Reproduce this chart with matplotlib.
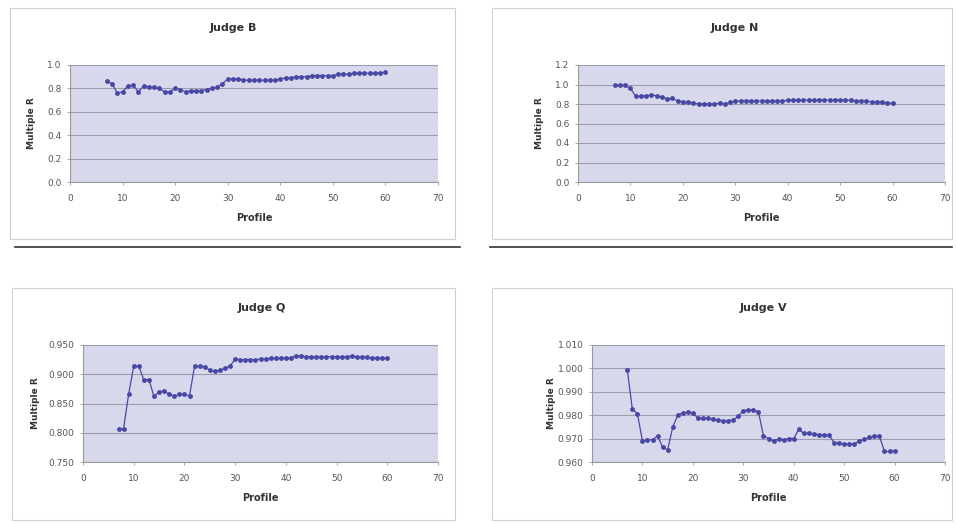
import numpy as np
import matplotlib
matplotlib.use('Agg')
import matplotlib.pyplot as plt
from matplotlib.patches import Rectangle
from matplotlib.lines import Line2D

## Data
profile = list(range(7, 61))

judge_b = [0.86, 0.84, 0.76, 0.77, 0.82, 0.83, 0.77, 0.82, 0.81, 0.81,
           0.80, 0.77, 0.77, 0.80, 0.79, 0.77, 0.78, 0.78, 0.78, 0.79,
           0.80, 0.81, 0.84, 0.88, 0.88, 0.88, 0.87, 0.87, 0.87, 0.87,
           0.87, 0.87, 0.87, 0.88, 0.89, 0.89, 0.90, 0.90, 0.90, 0.91,
           0.91, 0.91, 0.91, 0.91, 0.92, 0.92, 0.92, 0.93, 0.93, 0.93,
           0.93, 0.93, 0.93, 0.94]

judge_n = [0.99, 0.99, 0.99, 0.96, 0.88, 0.88, 0.885, 0.89, 0.885, 0.875,
           0.85, 0.86, 0.83, 0.82, 0.82, 0.81, 0.80, 0.80, 0.80, 0.80,
           0.81, 0.80, 0.82, 0.83, 0.83, 0.83, 0.83, 0.83, 0.83, 0.83,
           0.83, 0.83, 0.83, 0.84, 0.84, 0.84, 0.84, 0.84, 0.84, 0.84,
           0.84, 0.84, 0.84, 0.84, 0.84, 0.84, 0.83, 0.83, 0.83, 0.82,
           0.82, 0.82, 0.81, 0.81]

judge_q = [0.807, 0.807, 0.866, 0.914, 0.914, 0.890, 0.891, 0.862, 0.870, 0.871,
           0.866, 0.862, 0.866, 0.866, 0.863, 0.914, 0.914, 0.913, 0.907, 0.905,
           0.907, 0.910, 0.914, 0.926, 0.925, 0.925, 0.925, 0.925, 0.926, 0.926,
           0.927, 0.927, 0.928, 0.928, 0.928, 0.932, 0.931, 0.930, 0.930, 0.930,
           0.930, 0.930, 0.930, 0.930, 0.930, 0.930, 0.931, 0.930, 0.929, 0.929,
           0.928, 0.928, 0.928, 0.927]

judge_v = [0.9995, 0.9825, 0.9807, 0.9690, 0.9695, 0.9695, 0.9712, 0.9663, 0.9652, 0.9748,
           0.9800, 0.9810, 0.9812, 0.9810, 0.9787, 0.9786, 0.9786, 0.9785, 0.9778, 0.9776,
           0.9775, 0.9780, 0.9795, 0.9820, 0.9822, 0.9822, 0.9815, 0.9712, 0.9700, 0.9690,
           0.9698, 0.9695, 0.9700, 0.9700, 0.9740, 0.9722, 0.9722, 0.9720, 0.9717, 0.9715,
           0.9716, 0.9682, 0.9680, 0.9677, 0.9677, 0.9677, 0.9690, 0.9697, 0.9705, 0.9710,
           0.9710, 0.9645, 0.9645, 0.9647]

x_ticks = [0, 10, 20, 30, 40, 50, 60, 70]
yticks_b = [0.0, 0.2, 0.4, 0.6, 0.8, 1.0]
yticks_n = [0.0, 0.2, 0.4, 0.6, 0.8, 1.0, 1.2]
yticks_q = [0.750, 0.800, 0.850, 0.900, 0.950]
yticks_v = [0.960, 0.970, 0.980, 0.990, 1.000, 1.010]

MARK = '#4848a4'
PLOT_BG = '#d8d8ec'
GRID = '#9c9cae'
TXT = '#333333'

fig = plt.figure(figsize=(9.57, 5.25), dpi=100)
W, H = 957, 525

def px_axes(x0, x1, y0, y1):
    # pixel box (top-left origin) -> figure axes
    return fig.add_axes([x0 / W, 1 - y1 / H, (x1 - x0) / W, (y1 - y0) / H])

def chart_box(x0, x1, y0, y1):
    fig.patches.append(Rectangle((x0 / W, 1 - y1 / H), (x1 - x0) / W, (y1 - y0) / H,
                                 transform=fig.transFigure, facecolor='none',
                                 edgecolor='#cfcfcf', linewidth=0.8, zorder=-1))

def panel(box, area, title, title_x, ys, yticks, fmt, ylabel_x):
    chart_box(*box)
    ax = px_axes(*area)
    ax.set_facecolor(PLOT_BG)
    ax.plot(profile, ys, '-', color=MARK, linewidth=0.9, marker='o',
            markersize=3.5, markeredgewidth=0, zorder=3)
    ax.set_xlim(0, 70)
    ax.set_ylim(yticks[0], yticks[-1])
    ax.set_xticks(x_ticks)
    ax.set_yticks(yticks)
    ax.set_yticklabels([fmt.format(t) for t in yticks])
    ax.grid(axis='y', color=GRID, linewidth=0.8)
    ax.set_axisbelow(True)
    for s in ['top', 'right']:
        ax.spines[s].set_visible(False)
    ax.spines['left'].set_color('#9a9a9a')
    ax.spines['bottom'].set_color('#9a9a9a')
    ax.tick_params(axis='both', labelsize=6.5, colors='#9a9a9a', labelcolor='#555555',
                   length=2.5, width=0.6)
    ax.tick_params(axis='x', pad=6)
    ax.set_xlabel('Profile', fontsize=7, fontweight='bold', color=TXT, labelpad=7)
    fig.text(title_x / W, 1 - (box[2] + 20) / H, title, ha='center', va='center',
             fontsize=8, fontweight='bold', color=TXT)
    fig.text(ylabel_x / W, 1 - ((area[2] + area[3]) / 2) / H, 'Multiple R', rotation=90,
             ha='center', va='center', fontsize=6.5, fontweight='bold', color=TXT)
    return ax

panel((10, 455, 8, 239), (70, 438, 65, 182), 'Judge B', 233, judge_b, yticks_b, '{:.1f}', 31)
panel((492, 952, 8, 239), (578, 945, 65, 182), 'Judge N', 735, judge_n, yticks_n, '{:.1f}', 540)
panel((12, 455, 288, 520), (83, 438, 345, 462), 'Judge Q', 262, judge_q, yticks_q, '{:.3f}', 35)
panel((492, 952, 288, 520), (592, 945, 345, 462), 'Judge V', 763, judge_v, yticks_v, '{:.3f}', 551)

# dark rules under the top row
for x0, x1 in [(15, 460), (490, 952)]:
    fig.lines.append(Line2D([x0 / W, x1 / W], [1 - 247 / H] * 2, transform=fig.transFigure,
                            color='#333333', linewidth=1.2))

fig.savefig('out.png', dpi=100, facecolor='white')
